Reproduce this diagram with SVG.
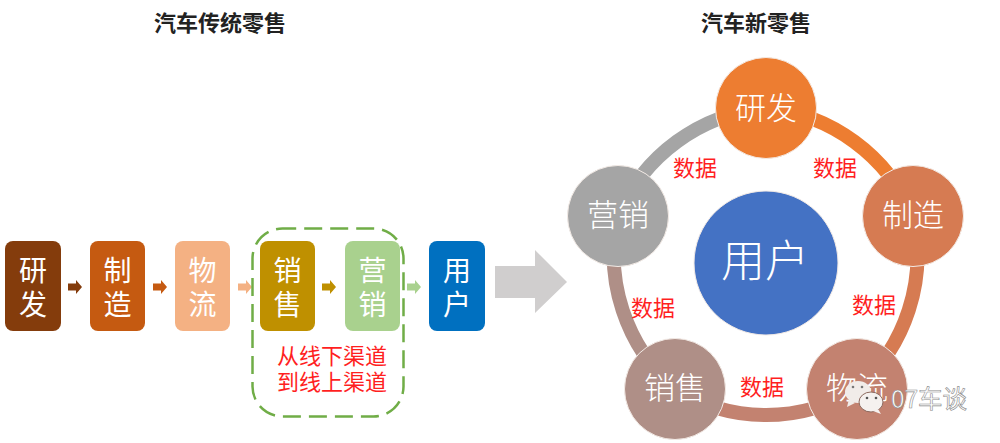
<svg xmlns="http://www.w3.org/2000/svg" width="1000" height="443" viewBox="0 0 1000 443">
<style>
text{font-family:"Noto Sans CJK SC","Liberation Sans",sans-serif;text-anchor:middle}
.title{font-size:22px;font-weight:700;fill:#222}
.box{font-size:28px;fill:#fff}
.c{font-size:31px;fill:#fff;font-weight:300}
.red{font-size:22px;fill:#ff1f1f}
.arc{fill:none;stroke-width:14}
.b{stroke:#f3ebe6;stroke-width:1}
</style>
<rect width="1000" height="443" fill="#fff"/>
<text class="title" x="220" y="31">汽车传统零售</text>
<text class="title" x="756" y="31">汽车新零售</text>
<g id="connectors">
<path fill="#843c0c" d="M68 283.500h8v-3.500l6 7-6 7v-3.500h-8z"/>
<path fill="#c55a11" d="M153 283.500h8v-3.500l6 7-6 7v-3.500h-8z"/>
<path fill="#f4b183" d="M238 283.500h8v-3.500l6 7-6 7v-3.500h-8z"/>
<path fill="#bf9000" d="M322 283.500h8v-3.500l6 7-6 7v-3.500h-8z"/>
<path fill="#a9d18e" d="M407 283.500h8v-3.500l6 7-6 7v-3.500h-8z"/>
<path fill="#d0cece" d="M495 266h40v-16l32 32-32 31v-15h-40z"/>
<path class="arc" stroke="#ed7d31" d="M766 108A178 178 0 0 1 913 216"/>
<path class="arc" stroke="#d67b52" d="M913 216A178 178 0 0 1 857 389"/>
<path class="arc" stroke="#c38270" d="M857 389A172 172 0 0 1 675 389"/>
<path class="arc" stroke="#af8f87" d="M675 389A178 178 0 0 1 618 216"/>
<path class="arc" stroke="#a5a5a5" d="M618 216A178 178 0 0 1 766 108"/>
</g>
<rect id="channel-frame" x="252.500" y="228.500" width="151" height="188" rx="30" fill="none" stroke="#70ad47" stroke-width="2.500" stroke-dasharray="18 8" stroke-dashoffset="4.300"/>
<g id="l-yanfa"><rect x="5" y="241" width="56" height="90" rx="8" fill="#843c0c"/><text class="box"><tspan x="33" y="281">研</tspan><tspan x="33" y="315">发</tspan></text></g>
<g id="l-zhizao"><rect x="90" y="241" width="55" height="90" rx="8" fill="#c55a11"/><text class="box"><tspan x="117.500" y="281">制</tspan><tspan x="117.500" y="315">造</tspan></text></g>
<g id="l-wuliu"><rect x="175" y="241" width="55" height="90" rx="8" fill="#f4b183"/><text class="box"><tspan x="202.500" y="281">物</tspan><tspan x="202.500" y="315">流</tspan></text></g>
<g id="l-xiaoshou"><rect x="260" y="241" width="55" height="90" rx="8" fill="#bf9000"/><text class="box"><tspan x="287.500" y="281">销</tspan><tspan x="287.500" y="315">售</tspan></text></g>
<g id="l-yingxiao"><rect x="345" y="241" width="55" height="90" rx="8" fill="#a9d18e"/><text class="box"><tspan x="372.500" y="281">营</tspan><tspan x="372.500" y="315">销</tspan></text></g>
<g id="l-yonghu"><rect x="429" y="241" width="56" height="90" rx="8" fill="#0070c0"/><text class="box"><tspan x="457" y="281">用</tspan><tspan x="457" y="315">户</tspan></text></g>
<g id="channel-label"><text class="red"><tspan x="332" y="364">从线下渠道</tspan><tspan x="332" y="390">到线上渠道</tspan></text></g>
<g id="c-yonghu"><circle cx="766" cy="263" r="72" fill="#4472c4" class="b"/><text x="765" y="277" font-size="44" fill="#fff" font-weight="300">用户</text></g>
<g id="c-yanfa"><circle cx="766" cy="108" r="50.500" fill="#ed7d31" class="b"/><text class="c" x="766" y="119">研发</text></g>
<g id="c-zhizao"><circle cx="913" cy="216" r="50.500" fill="#d67b52" class="b"/><text class="c" x="913" y="226">制造</text></g>
<g id="c-wuliu"><circle cx="857" cy="389" r="50.500" fill="#c38270" class="b"/><text class="c" x="857" y="399">物流</text></g>
<g id="c-xiaoshou"><circle cx="675" cy="389" r="50.500" fill="#af8f87" class="b"/><text class="c" x="675" y="399">销售</text></g>
<g id="c-yingxiao"><circle cx="618" cy="216" r="50.500" fill="#a5a5a5" class="b"/><text class="c" x="618" y="226">营销</text></g>
<g id="data-labels">
<text class="red" x="695" y="176">数据</text>
<text class="red" x="835" y="176">数据</text>
<text class="red" x="874" y="313">数据</text>
<text class="red" x="653" y="316">数据</text>
<text class="red" x="762" y="395">数据</text>
</g>
<g id="watermark">
<ellipse cx="858" cy="392" rx="13" ry="11" fill="#f1ece9"/><path d="M849 399l-2 8 8-4z" fill="#f1ece9"/>
<ellipse cx="871" cy="402" rx="12" ry="10" fill="#f5f1ef" stroke="#8d6b60" stroke-width="1"/><path d="M878 409l3 5-8-3z" fill="#f5f1ef"/>
<circle cx="853" cy="387" r="1.300" fill="#777"/><circle cx="862" cy="387" r="1.300" fill="#777"/><circle cx="867" cy="398" r="1.300" fill="#555"/><circle cx="876" cy="398" r="1.300" fill="#555"/>
<text x="929" y="408" font-size="24.500" fill="#fff" stroke="#8a8a8a" stroke-width=".6">07车谈</text>
</g>
</svg>
